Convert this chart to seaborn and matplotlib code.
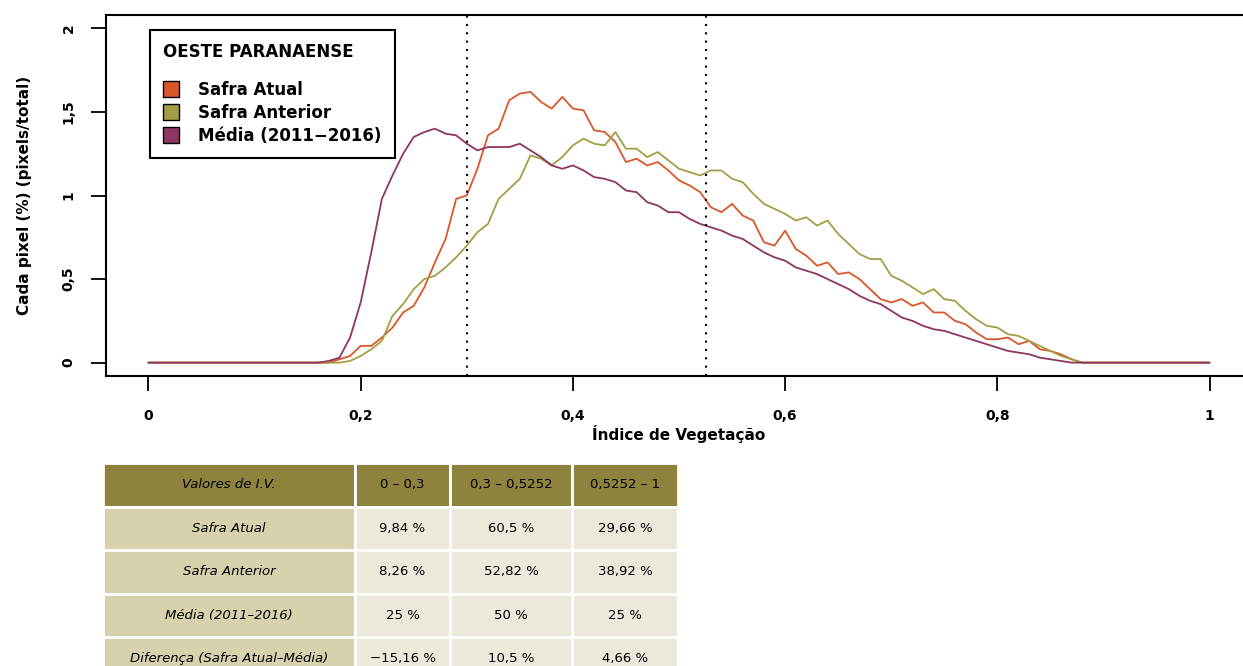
import numpy as np
import pandas as pd
import matplotlib
matplotlib.use("Agg")
import matplotlib.pyplot as plt
import seaborn as sns
from matplotlib.lines import Line2D

# Dados (passo 0,01 no Índice de Vegetação)
indice = np.round(np.arange(0, 1.001, 0.01), 2)

safra_atual = [0.0] * 16 + [
    0.00, 0.00, 0.02, 0.04, 0.10, 0.10, 0.15, 0.21, 0.30, 0.34,
    0.45, 0.60, 0.74, 0.98, 1.00, 1.16, 1.36, 1.40, 1.57, 1.61,
    1.62, 1.56, 1.52, 1.59, 1.52, 1.51, 1.39, 1.38, 1.32, 1.20,
    1.22, 1.18, 1.20, 1.15, 1.09, 1.06, 1.02, 0.93, 0.90, 0.95,
    0.88, 0.85, 0.72, 0.70, 0.79, 0.68, 0.64, 0.58, 0.60, 0.53,
    0.54, 0.50, 0.44, 0.38, 0.36, 0.38, 0.34, 0.36, 0.30, 0.30,
    0.25, 0.23, 0.18, 0.14, 0.14, 0.15, 0.11, 0.13, 0.08, 0.07,
    0.05, 0.02, 0.00] + [0.0] * 12

safra_anterior = [0.0] * 16 + [
    0.00, 0.00, 0.00, 0.01, 0.04, 0.08, 0.13, 0.28, 0.35, 0.44,
    0.50, 0.52, 0.57, 0.63, 0.70, 0.78, 0.83, 0.98, 1.04, 1.10,
    1.24, 1.22, 1.18, 1.23, 1.30, 1.34, 1.31, 1.30, 1.38, 1.28,
    1.28, 1.23, 1.26, 1.21, 1.16, 1.14, 1.12, 1.15, 1.15, 1.10,
    1.08, 1.01, 0.95, 0.92, 0.89, 0.85, 0.87, 0.82, 0.85, 0.77,
    0.71, 0.65, 0.62, 0.62, 0.52, 0.49, 0.45, 0.41, 0.44, 0.38,
    0.37, 0.31, 0.26, 0.22, 0.21, 0.17, 0.16, 0.13, 0.10, 0.07,
    0.04, 0.02, 0.00] + [0.0] * 12

media = [0.0] * 16 + [
    0.00, 0.01, 0.03, 0.15, 0.36, 0.66, 0.98, 1.12, 1.25, 1.35,
    1.38, 1.40, 1.37, 1.36, 1.31, 1.27, 1.29, 1.29, 1.29, 1.31,
    1.27, 1.23, 1.18, 1.16, 1.18, 1.15, 1.11, 1.10, 1.08, 1.03,
    1.02, 0.96, 0.94, 0.90, 0.90, 0.86, 0.83, 0.81, 0.79, 0.76,
    0.74, 0.70, 0.66, 0.63, 0.61, 0.57, 0.55, 0.53, 0.50, 0.47,
    0.44, 0.40, 0.37, 0.35, 0.31, 0.27, 0.25, 0.22, 0.20, 0.19,
    0.17, 0.15, 0.13, 0.11, 0.09, 0.07, 0.06, 0.05, 0.03, 0.02,
    0.01, 0.00, 0.00] + [0.0] * 12

series_nomes = ["Safra Atual", "Safra Anterior", "Média (2011\u22122016)"]
cores = {"Safra Atual": "#D9582A",
         "Safra Anterior": "#A39E45",
         "Média (2011\u22122016)": "#8E3560"}

limites = [0.3, 0.5252]
xticks = [0, 0.2, 0.4, 0.6, 0.8, 1]
xtick_labels = ["0", "0,2", "0,4", "0,6", "0,8", "1"]
yticks = [0, 0.5, 1, 1.5, 2]
ytick_labels = ["0", "0,5", "1", "1,5", "2"]

# Tabela
tab_cabecalho = ["Valores de I.V.", "0 \u2013 0,3", "0,3 \u2013 0,5252", "0,5252 \u2013 1"]
tab_linhas = ["Safra Atual", "Safra Anterior", "Média (2011\u20132016)",
              "Diferença (Safra Atual\u2013Média)"]
tab_0_03 = ["9,84 %", "8,26 %", "25 %", "\u221215,16 %"]
tab_03_05 = ["60,5 %", "52,82 %", "50 %", "10,5 %"]
tab_05_1 = ["29,66 %", "38,92 %", "25 %", "4,66 %"]

df = pd.DataFrame({
    "indice": np.tile(indice, 3),
    "valor": safra_atual + safra_anterior + media,
    "serie": np.repeat(series_nomes, len(indice)),
})

sns.set_style("ticks")
plt.rcParams["font.family"] = ["DejaVu Sans"]
plt.rcParams["text.color"] = "black"
plt.rcParams["axes.labelcolor"] = "black"
plt.rcParams["xtick.color"] = "black"
plt.rcParams["ytick.color"] = "black"

fig = plt.figure(figsize=(12.43, 6.66), dpi=100)
ax = fig.add_axes([106 / 1243, 290 / 666, 1146 / 1243, 361 / 666])

sns.lineplot(data=df, x="indice", y="valor", hue="serie", palette=cores,
             hue_order=series_nomes, estimator=None, sort=False,
             linewidth=1.3, legend=False, ax=ax)

for lim in limites:
    ax.axvline(lim, color="black", linestyle=(0, (1, 3)), linewidth=1.5)

ax.set_xlim(-0.04, 1.04)
ax.set_ylim(-0.08, 2.08)
ax.set_xticks(xticks)
ax.set_xticklabels(xtick_labels, fontsize=10, fontweight="bold")
ax.set_yticks(yticks)
ax.set_yticklabels(ytick_labels, fontsize=10, fontweight="bold",
                   rotation=90, va="center")
ax.tick_params(axis="x", length=11, width=1.3, pad=13)
ax.tick_params(axis="y", length=11, width=1.3, pad=11)
for sp in ax.spines.values():
    sp.set_linewidth(1.5)
    sp.set_color("black")

ax.set_xlabel("Índice de Vegetação", fontsize=11, fontweight="bold", labelpad=1)
ax.set_ylabel("Cada pixel (%) (pixels/total)", fontsize=11, fontweight="bold",
              labelpad=21)

handles = [Line2D([], [], linestyle="none", marker="s", markersize=11,
                  markerfacecolor=cores[n], markeredgecolor="black",
                  markeredgewidth=1.0) for n in series_nomes]
leg = ax.legend(handles, series_nomes, title="OESTE PARANAENSE",
                loc="upper left", bbox_to_anchor=(0.038, 0.958),
                borderaxespad=0, frameon=True, fancybox=False,
                framealpha=1, edgecolor="black",
                prop={"weight": "bold", "size": 12},
                handletextpad=1.1, labelspacing=0.3, borderpad=0.8,
                handlelength=1.0)
leg.get_title().set_fontweight("bold")
leg.get_title().set_fontsize(12)
leg.get_frame().set_linewidth(1.5)
leg._legend_box.align = "left"
leg._legend_box.sep = 14

# Tabela abaixo do gráfico
tax = fig.add_axes([103 / 1243, -14.5 / 666, 575 / 1243, 217.5 / 666])
tax.axis("off")
texto = [tab_cabecalho] + [[tab_linhas[i], tab_0_03[i], tab_03_05[i], tab_05_1[i]]
                           for i in range(len(tab_linhas))]
cor_cab = "#8E823F"
cor_col = "#D8D1AE"
cor_cel = "#ECE8DB"
cores_tab = [[cor_cab] * 4] + [[cor_col, cor_cel, cor_cel, cor_cel]
                               for _ in tab_linhas]
tbl = tax.table(cellText=texto, cellColours=cores_tab,
                colWidths=[252 / 575, 95 / 575, 122 / 575, 106 / 575],
                cellLoc="center", bbox=[0, 0, 1, 1])
tbl.auto_set_font_size(False)
for (r, c), cell in tbl.get_celld().items():
    cell.set_edgecolor("white")
    cell.set_linewidth(2)
    t = cell.get_text()
    t.set_fontsize(9.5)
    t.set_color("black")
    if c == 0:
        t.set_fontstyle("italic")

plt.savefig("out.png", dpi=100)
